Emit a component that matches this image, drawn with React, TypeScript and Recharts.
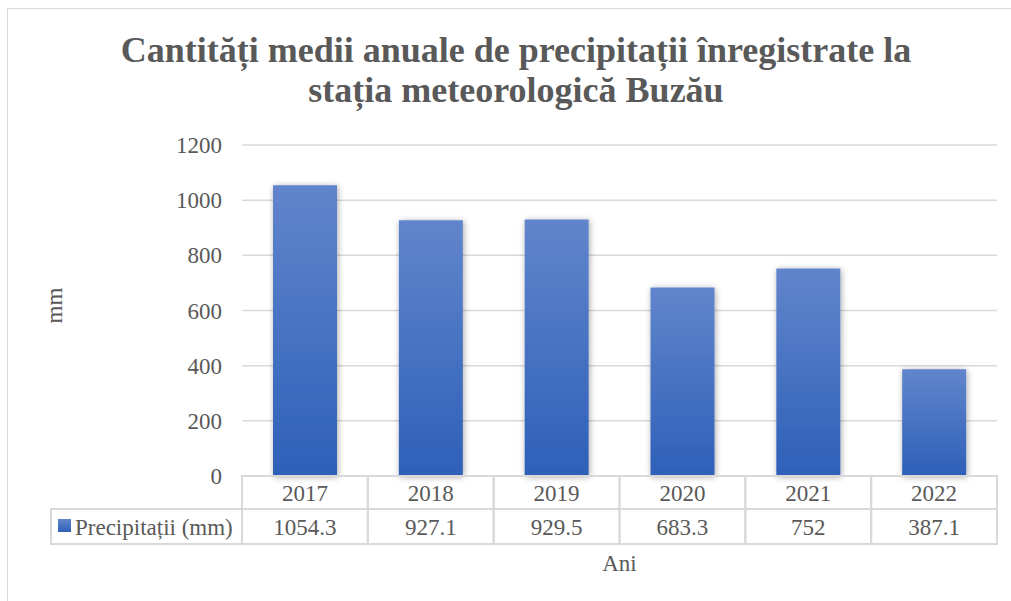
import { BarChart, Bar, XAxis, YAxis, CartesianGrid, Label } from "recharts";

const years = ["2017", "2018", "2019", "2020", "2021", "2022"];
const precipitation = [1054.3, 927.1, 929.5, 683.3, 752, 387.1];
const valueLabels = ["1054.3", "927.1", "929.5", "683.3", "752", "387.1"];
const yTicks = [0, 200, 400, 600, 800, 1000, 1200];
const seriesName = "Precipitații (mm)";
const titleLines = [
  "Cantități medii anuale de precipitații înregistrate la",
  "stația meteorologică Buzău",
];

const data = years.map((year, i) => ({ year, value: precipitation[i], label: valueLabels[i] }));

const W = 1011;
const H = 601;
const MARGIN = { top: 145, right: 14, bottom: 25, left: 30 };
const Y_AXIS_W = 212;
const COL_W = (W - MARGIN.left - Y_AXIS_W - MARGIN.right) / years.length;
const LEGEND_W = 191;
const ROW1 = 33;
const ROW2 = 35;

const FONT = "'Liberation Serif'";
const FS = 23;
const TEXT = "#595959";
const LINE = "#d9d9d9";

function TableTick(props: any) {
  const { x, y, index } = props;
  const left = x - COL_W / 2;
  const row = data[index];
  return (
    <g>
      {index === 0 && (
        <g>
          <rect x={left - LEGEND_W} y={y + ROW1} width={LEGEND_W} height={ROW2} fill="none" stroke={LINE} strokeWidth={2} />
          <rect x={left - LEGEND_W + 7} y={y + ROW1 + 10} width={13} height={13} fill="url(#barGrad)" />
          <text x={left - LEGEND_W + 24} y={y + ROW1 + ROW2 / 2 + 1} dominantBaseline="central" fontSize={FS} fontFamily={FONT} fill={TEXT}>
            {seriesName}
          </text>
        </g>
      )}
      <rect x={left} y={y} width={COL_W} height={ROW1} fill="none" stroke={LINE} strokeWidth={2} />
      <rect x={left} y={y + ROW1} width={COL_W} height={ROW2} fill="none" stroke={LINE} strokeWidth={2} />
      <text x={x} y={y + ROW1 / 2 + 1} textAnchor="middle" dominantBaseline="central" fontSize={FS} fontFamily={FONT} fill={TEXT}>
        {row.year}
      </text>
      <text x={x} y={y + ROW1 + ROW2 / 2 + 1} textAnchor="middle" dominantBaseline="central" fontSize={FS} fontFamily={FONT} fill={TEXT}>
        {row.label}
      </text>
    </g>
  );
}

function YTitle(props: any) {
  const { viewBox } = props;
  const cx = viewBox.x + 24;
  const cy = viewBox.y + viewBox.height / 2 - 5;
  return (
    <text x={cx} y={cy} transform={`rotate(-90 ${cx} ${cy})`} textAnchor="middle" dominantBaseline="central" fontSize={FS} fontFamily={FONT} fill={TEXT}>
      mm
    </text>
  );
}

export default function App() {
  return (
    <div style={{ position: "absolute", left: 0, top: 0, width: W, height: H, overflow: "hidden", background: "#fff" }}>
      <div style={{ position: "absolute", left: 7, top: 8, width: 1030, height: 620, border: `1.5px solid ${LINE}` }} />
      <div
        style={{
          position: "absolute",
          left: 0,
          top: 30,
          width: 1032,
          textAlign: "center",
          fontFamily: FONT,
          fontWeight: "bold",
          fontSize: 36,
          lineHeight: "40px",
          color: TEXT,
        }}
      >
        {titleLines.map((l) => (
          <div key={l}>{l}</div>
        ))}
      </div>
      <div style={{ position: "absolute", left: 0, top: 0 }}>
        <BarChart width={W} height={H} data={data} margin={MARGIN} barSize={64}>
          <defs>
            <linearGradient id="barGrad" x1="0" y1="0" x2="0" y2="1">
              <stop offset="0%" stopColor="#6185cc" />
              <stop offset="100%" stopColor="#2e60b8" />
            </linearGradient>
            <filter id="barShadow" x="-30%" y="-10%" width="160%" height="120%">
              <feDropShadow dx="1" dy="1" stdDeviation="3" floodColor="#000" floodOpacity="0.35" />
            </filter>
          </defs>
          <CartesianGrid vertical={false} stroke={LINE} strokeWidth={1.5} />
          <YAxis
            type="number"
            domain={[0, 1200]}
            ticks={yTicks}
            width={Y_AXIS_W}
            axisLine={false}
            tickLine={false}
            tickSize={6}
            tickMargin={14}
            tick={{ fontSize: FS, fontFamily: FONT, fill: TEXT }}
          >
            <Label content={<YTitle />} />
          </YAxis>
          <XAxis
            dataKey="year"
            height={100}
            interval={0}
            axisLine={false}
            tickLine={false}
            tickSize={0}
            tickMargin={0}
            tick={<TableTick />}
          >
            <Label value="Ani" position="insideBottom" offset={5} fontSize={FS} fontFamily={FONT} fill={TEXT} />
          </XAxis>
          <Bar dataKey="value" fill="url(#barGrad)" isAnimationActive={false} style={{ filter: "url(#barShadow)" }} />
        </BarChart>
      </div>
    </div>
  );
}
